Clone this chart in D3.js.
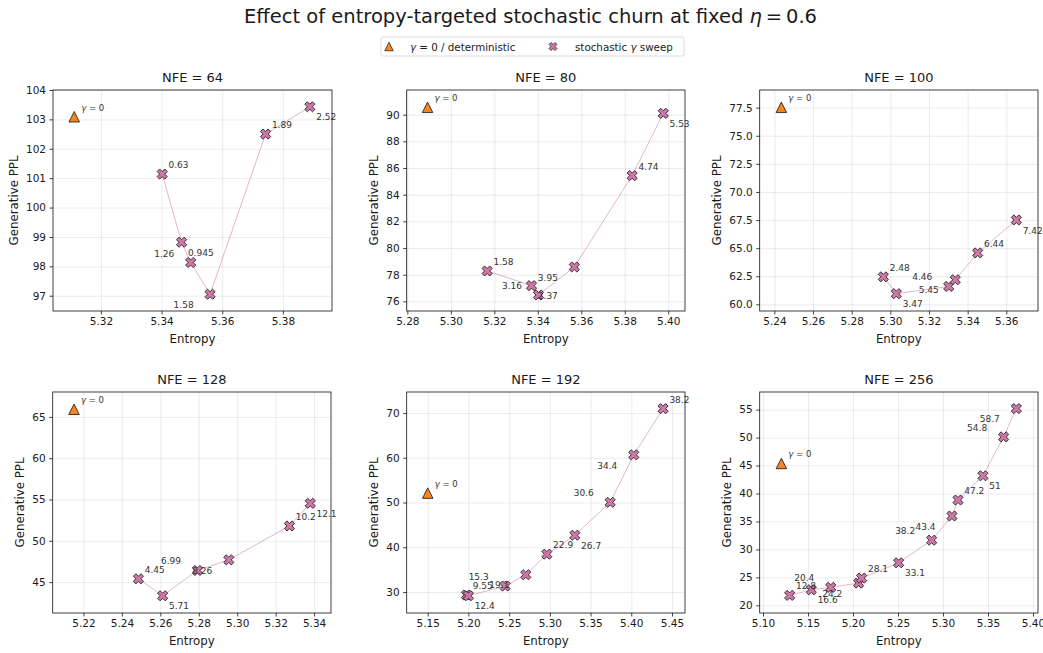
<!DOCTYPE html>
<html>
<head>
<meta charset="utf-8">
<script src="https://cdn.jsdelivr.net/npm/d3@7"></script>
<style>
  body { margin: 0; background: #fff; }
  text { font-family: "DejaVu Sans", sans-serif; fill: #1a1a1a; }
</style>
</head>
<body>
<div id="chart"></div>
<script>
// ---- data ----
var nfe = [64, 80, 100, 128, 192, 256];

// gamma = 0 (deterministic) run per NFE
var detEntropy = [5.3112, 5.2893, 5.2436, 5.2151, 5.1500, 5.1204];
var detPPL     = [103.09, 90.55, 77.53, 65.93, 52.10, 45.37];

// stochastic gamma sweeps
var entropy64 = [5.3402, 5.3466, 5.3496, 5.3560, 5.3743, 5.3889];
var ppl64     = [101.14, 98.82, 98.13, 97.05, 102.50, 103.43];
var gamma64   = ["0.63", "0.945", "1.26", "1.58", "1.89", "2.52"];

var entropy80 = [5.3167, 5.3371, 5.3403, 5.3568, 5.3834, 5.3977];
var ppl80     = [78.28, 77.18, 76.48, 78.58, 85.43, 90.10];
var gamma80   = ["1.58", "2.37", "3.16", "3.95", "4.74", "5.53"];

var entropy100 = [5.2964, 5.3031, 5.3302, 5.3336, 5.3452, 5.3652];
var ppl100     = [62.45, 60.95, 61.60, 62.19, 64.58, 67.51];
var gamma100   = ["2.48", "3.47", "4.46", "5.45", "6.44", "7.42"];

var entropy128 = [5.2486, 5.2612, 5.2793, 5.2956, 5.3272, 5.3380];
var ppl128     = [45.40, 43.35, 46.41, 47.70, 51.80, 54.54];
var gamma128   = ["4.45", "5.71", "6.99", "8.26", "10.2", "12.1"];

var entropy192 = [5.1975, 5.2000, 5.2451, 5.2705, 5.2963, 5.3307, 5.3741, 5.4031, 5.4391];
var ppl192     = [29.33, 29.18, 31.34, 33.86, 38.46, 42.69, 50.04, 60.65, 70.96];
var gamma192   = ["9.55", "12.4", "15.3", "19.1", "22.9", "26.7", "30.6", "34.4", "38.2"];

var entropy256 = [5.1296, 5.1537, 5.1752, 5.2063, 5.2096, 5.2507, 5.2874, 5.3100, 5.3167, 5.3444, 5.3674, 5.3815];
var ppl256     = [21.78, 22.79, 23.21, 23.98, 24.87, 27.61, 31.65, 35.98, 38.84, 43.17, 50.12, 55.18];
var gamma256   = ["12.8", "16.6", "20.4", "24.2", "28.1", "33.1", "38.2", "43.4", "47.2", "51", "54.8", "58.7"];

// axis limits and ticks
var xLims = [[5.3042, 5.3962], [5.2797, 5.4077], [5.2324, 5.3764], [5.2040, 5.3488], [5.1242, 5.4660], [5.0963, 5.4056]];
var yLims = [[96.48, 104.0], [75.28, 91.85], [59.41, 79.07], [41.26, 68.02], [25.32, 74.68], [18.63, 58.15]];
var xTicks = [
  [5.32, 5.34, 5.36, 5.38],
  [5.28, 5.30, 5.32, 5.34, 5.36, 5.38, 5.40],
  [5.24, 5.26, 5.28, 5.30, 5.32, 5.34, 5.36],
  [5.22, 5.24, 5.26, 5.28, 5.30, 5.32, 5.34],
  [5.15, 5.20, 5.25, 5.30, 5.35, 5.40, 5.45],
  [5.10, 5.15, 5.20, 5.25, 5.30, 5.35, 5.40]
];
var yTicks = [
  [97, 98, 99, 100, 101, 102, 103, 104],
  [76, 78, 80, 82, 84, 86, 88, 90],
  [60.0, 62.5, 65.0, 67.5, 70.0, 72.5, 75.0, 77.5],
  [45, 50, 55, 60, 65],
  [30, 40, 50, 60, 70],
  [20, 25, 30, 35, 40, 45, 50, 55]
];
var yFormats = ["d", "d", ".1f", "d", "d", "d"];

// ---- layout ----
var W = 1043, H = 653;
var boxes = [
  {x0: 53,    x1: 332,  y0: 90,  y1: 311},
  {x0: 406.7, x1: 685,  y0: 90,  y1: 311},
  {x0: 759.7, x1: 1038, y0: 90,  y1: 311},
  {x0: 52.7,  x1: 331,  y0: 392, y1: 613},
  {x0: 406.7, x1: 685,  y0: 392, y1: 613},
  {x0: 759.7, x1: 1038, y0: 392, y1: 613}
];
var sweeps = [
  [entropy64, ppl64, gamma64],
  [entropy80, ppl80, gamma80],
  [entropy100, ppl100, gamma100],
  [entropy128, ppl128, gamma128],
  [entropy192, ppl192, gamma192],
  [entropy256, ppl256, gamma256]
];

var orange = "#f5861f", pink = "#cc79a7";
// label offsets cycle: above-right, below-right, above-left, below-left
var labelOffsets = [[6.3, -6], [6.3, 13.7], [-36.5, -6], [-36.5, 13.7]];

function crossPath(s) {
  var pts = [[-1, -3], [1, -3], [1, -1], [3, -1], [3, 1], [1, 1], [1, 3], [-1, 3], [-1, 1], [-3, 1], [-3, -1], [-1, -1]];
  var c = Math.SQRT1_2;
  return "M" + pts.map(function (p) {
    var x = p[0] / 6 * s, y = p[1] / 6 * s;
    return [(x - y) * c, (x + y) * c].join(",");
  }).join("L") + "Z";
}
function triPath(s) {
  var h = s / 2;
  return "M0," + (-h) + "L" + (-h) + "," + h + "L" + h + "," + h + "Z";
}

var svg = d3.select("#chart").append("svg")
    .attr("width", W)
    .attr("height", H);

// suptitle
var title = svg.append("text")
    .attr("x", 530.5)
    .attr("y", 23)
    .attr("text-anchor", "middle")
    .style("font-size", "19.5px");
title.append("tspan").text("Effect of entropy-targeted stochastic churn at fixed ");
title.append("tspan").style("font-style", "italic").text("η");
title.append("tspan").text("\u2009=\u20090.6");

// legend
var legend = svg.append("g");
legend.append("rect")
    .attr("x", 381).attr("y", 37)
    .attr("width", 303).attr("height", 19)
    .attr("rx", 2)
    .style("fill", "#fff")
    .style("stroke", "#d0d0d0")
    .style("stroke-width", 0.8);
legend.append("path")
    .attr("d", triPath(8.5))
    .attr("transform", "translate(389,46.5)")
    .style("fill", orange).style("stroke", "#111").style("stroke-width", 0.7);
var lt1 = legend.append("text").attr("x", 410).attr("y", 50.5).style("font-size", "10.3px");
lt1.append("tspan").style("font-style", "italic").text("γ");
lt1.append("tspan").text(" = 0 / deterministic");
legend.append("path")
    .attr("d", crossPath(8.5))
    .attr("transform", "translate(553,46.5)")
    .style("fill", pink).style("stroke", "#111").style("stroke-width", 0.7);
var lt2 = legend.append("text").attr("x", 575).attr("y", 50.5).style("font-size", "10.3px");
lt2.append("tspan").text("stochastic ");
lt2.append("tspan").style("font-style", "italic").text("γ");
lt2.append("tspan").text(" sweep");

boxes.forEach(function (b, k) {
  var w = b.x1 - b.x0, h = b.y1 - b.y0;
  var xs = d3.scaleLinear().domain(xLims[k]).range([0, w]);
  var ys = d3.scaleLinear().domain(yLims[k]).range([h, 0]);
  var g = svg.append("g").attr("transform", "translate(" + b.x0 + "," + b.y0 + ")");

  // grid
  g.append("g")
      .attr("transform", "translate(0," + h + ")")
      .call(d3.axisBottom(xs).tickValues(xTicks[k]).tickSize(-h).tickFormat(""))
      .call(function (s) { s.select(".domain").remove(); })
      .selectAll("line").style("stroke", "#b0b0b0").style("stroke-opacity", 0.3).style("stroke-width", 0.8);
  g.append("g")
      .call(d3.axisLeft(ys).tickValues(yTicks[k]).tickSize(-w).tickFormat(""))
      .call(function (s) { s.select(".domain").remove(); })
      .selectAll("line").style("stroke", "#b0b0b0").style("stroke-opacity", 0.3).style("stroke-width", 0.8);

  // axes with ticks
  var xa = g.append("g")
      .attr("transform", "translate(0," + h + ")")
      .call(d3.axisBottom(xs).tickValues(xTicks[k]).tickFormat(d3.format(".2f")).tickSize(3.5).tickPadding(3.5).tickSizeOuter(0));
  var ya = g.append("g")
      .call(d3.axisLeft(ys).tickValues(yTicks[k]).tickFormat(d3.format(yFormats[k])).tickSize(3.5).tickPadding(3.5).tickSizeOuter(0));
  [xa, ya].forEach(function (a) {
    a.select(".domain").remove();
    a.selectAll("line").style("stroke", "#111").style("stroke-width", 0.8);
    a.selectAll("text").style("font-size", "10.5px").style("fill", "#1a1a1a").attr("font-family", null);
  });

  // connecting line + sweep points
  var e = sweeps[k][0], p = sweeps[k][1], gm = sweeps[k][2];
  var pts = e.map(function (v, i) { return {x: v, y: p[i], g: gm[i], i: i}; });
  g.append("path")
      .datum(pts)
      .attr("d", d3.line().x(function (d) { return xs(d.x); }).y(function (d) { return ys(d.y); }))
      .style("fill", "none")
      .style("stroke", pink)
      .style("stroke-opacity", 0.55)
      .style("stroke-width", 1);

  g.selectAll(".sweep")
    .data(pts)
    .enter().append("path")
      .attr("class", "sweep")
      .attr("d", crossPath(10.8))
      .attr("transform", function (d) { return "translate(" + xs(d.x) + "," + ys(d.y) + ")"; })
      .style("fill", pink)
      .style("stroke", "#111")
      .style("stroke-width", 0.8);

  g.selectAll(".glabel")
    .data(pts)
    .enter().append("text")
      .attr("class", "glabel")
      .attr("x", function (d) { return xs(d.x) + labelOffsets[d.i % 4][0]; })
      .attr("y", function (d) { return ys(d.y) + labelOffsets[d.i % 4][1]; })
      .style("font-size", "9px")
      .style("fill", "#333")
      .text(function (d) { return d.g; });

  // deterministic marker
  var dx = xs(detEntropy[k]), dy = ys(detPPL[k]);
  g.append("path")
      .attr("d", triPath(10.5))
      .attr("transform", "translate(" + dx + "," + dy + ")")
      .style("fill", orange)
      .style("stroke", "#111")
      .style("stroke-width", 0.8);
  var dl = g.append("text")
      .attr("x", dx + 7)
      .attr("y", dy - 6)
      .style("font-size", "8.5px")
      .style("fill", "#333");
  dl.append("tspan").style("font-style", "italic").text("γ");
  dl.append("tspan").text(" = 0");

  // frame
  g.append("rect")
      .attr("width", w).attr("height", h)
      .style("fill", "none")
      .style("stroke", "#111")
      .style("stroke-width", 0.8);

  // titles and axis labels
  g.append("text")
      .attr("x", w / 2).attr("y", -8)
      .attr("text-anchor", "middle")
      .style("font-size", "13px")
      .text("NFE = " + nfe[k]);
  g.append("text")
      .attr("x", w / 2).attr("y", h + 32)
      .attr("text-anchor", "middle")
      .style("font-size", "11.8px")
      .text("Entropy");

  var tw = d3.max(ya.selectAll("text").nodes(), function (n) { return n.getComputedTextLength(); });
  g.append("text")
      .attr("transform", "translate(" + (-tw - 19.5) + "," + (h / 2) + ") rotate(-90)")
      .attr("text-anchor", "middle")
      .attr("dy", "0.35em")
      .style("font-size", "11.8px")
      .text("Generative PPL");
});
</script>
</body>
</html>
